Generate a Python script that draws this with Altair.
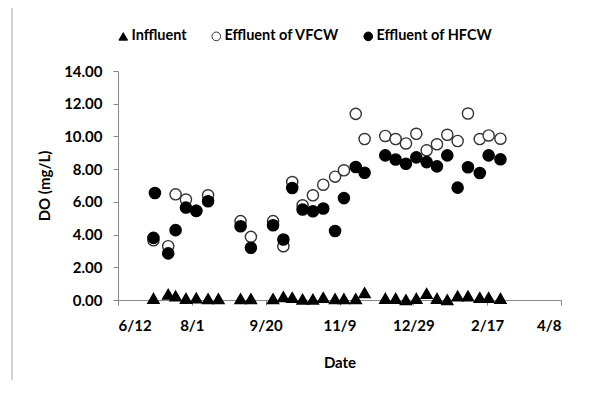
import altair as alt
import pandas as pd

# ---- data ----
dates = ["2010-07-06", "2010-07-07", "2010-07-16", "2010-07-21", "2010-07-28", "2010-08-04",
         "2010-08-12", "2010-08-19", "2010-09-03", "2010-09-10", "2010-09-25", "2010-10-02",
         "2010-10-08", "2010-10-15", "2010-10-22", "2010-10-29", "2010-11-06", "2010-11-12",
         "2010-11-20", "2010-11-26", "2010-12-10", "2010-12-17", "2010-12-24", "2010-12-31",
         "2011-01-07", "2011-01-14", "2011-01-21", "2011-01-28", "2011-02-04", "2011-02-12",
         "2011-02-18", "2011-02-26"]
inffluent = [0.10, None, 0.35, 0.25, 0.10, 0.12,
             0.08, 0.08, 0.08, 0.08, 0.08, 0.20,
             0.15, 0.05, 0.05, 0.15, 0.08, 0.08,
             0.08, 0.45, 0.10, 0.10, 0.02, 0.10,
             0.40, 0.10, 0.02, 0.25, 0.25, 0.15,
             0.15, 0.10]
vfcw = [3.65, None, 3.29, 6.46, 6.14, 5.45,
        6.40, None, 4.82, 3.86, 4.82, 3.29,
        7.21, 5.79, 6.40, 7.05, 7.54, 7.93,
        11.38, 9.84, 10.03, 9.84, 9.57, 10.16,
        9.15, 9.52, 10.10, 9.72, 11.40, 9.84,
        10.06, 9.86]
hfcw = [3.80, 6.54, 2.85, 4.27, 5.65, 5.45,
        6.04, None, 4.51, 3.19, 4.57, 3.70,
        6.85, 5.53, 5.43, 5.59, 4.22, 6.23,
        8.13, 7.78, 8.84, 8.59, 8.33, 8.72,
        8.43, 8.17, 8.84, 6.87, 8.12, 7.76,
        8.84, 8.60]
series_names = ["Inffluent", "Effluent of VFCW", "Effluent of HFCW"]
tick_dates = ["2010-06-12", "2010-08-01", "2010-09-20", "2010-11-09",
              "2010-12-29", "2011-02-17", "2011-04-08"]
y_ticks = [0, 2, 4, 6, 8, 10, 12, 14]

rows = []
k = 0
for name, vals in zip(series_names, [inffluent, vfcw, hfcw]):
    for d, v in zip(dates, vals):
        if v is not None:
            rows.append({"Date": d, "DO": v, "Series": name, "ord": k})
            k += 1
df = pd.DataFrame(rows)


def dt(s):
    y, m, d = (int(p) for p in s.split("-"))
    return alt.DateTime(year=y, month=m, date=d, utc=True)


legend = alt.Legend(
    title=None, orient="none", direction="horizontal",
    legendX=-2, legendY=-42, symbolSize=75, symbolStrokeWidth=1,
    labelFont="Lato", labelFontSize=14.5, labelFontWeight="bold", labelColor="black",
    columnPadding=22, labelOffset=1,
)

points = alt.Chart(df).mark_point(filled=True, size=125, strokeWidth=1.4, opacity=1).encode(
    x=alt.X("Date:T",
            scale=alt.Scale(type="utc", domain=[dt(tick_dates[0]), dt(tick_dates[-1])]),
            axis=alt.Axis(values=[dt(s) for s in tick_dates], format="%-m/%-d",
                          title="Date", labelPadding=13, titlePadding=22)),
    y=alt.Y("DO:Q", scale=alt.Scale(domain=[0, 14], nice=False),
            axis=alt.Axis(values=y_ticks, format=".2f", title="DO (mg/L)",
                          labelPadding=11, titlePadding=11)),
    shape=alt.Shape("Series:N", scale=alt.Scale(domain=series_names,
                                                range=["triangle-up", "circle", "circle"]),
                    legend=legend),
    fill=alt.Fill("Series:N", scale=alt.Scale(domain=series_names,
                                              range=["black", "white", "black"]),
                  legend=legend),
    stroke=alt.Stroke("Series:N", scale=alt.Scale(domain=series_names,
                                                  range=["black", "#333333", "black"]),
                      legend=legend),
    order=alt.Order("ord:Q"),
)

frame = alt.Chart(pd.DataFrame({"a": [0]})).mark_rule(color="#a6a6a6", strokeWidth=1).encode(
    x=alt.value(-106), y=alt.value(-63), y2=alt.value(309)
)

chart = alt.layer(frame, points).properties(
    width=443, height=229,
    autosize=alt.AutoSizeParams(type="none"),
    padding={"left": 110, "top": 63, "right": 15, "bottom": 80},
).configure(background="white").configure_view(stroke=None).configure_axis(
    grid=False, domainColor="#888888", tickColor="#888888", tickSize=5,
    labelFont="Lato", labelFontSize=15, labelFontWeight="bold", labelColor="black",
    titleFont="Lato", titleFontSize=15, titleFontWeight="bold", titleColor="black",
)

chart.save("out.html", embed_options={"renderer": "svg", "actions": False})
